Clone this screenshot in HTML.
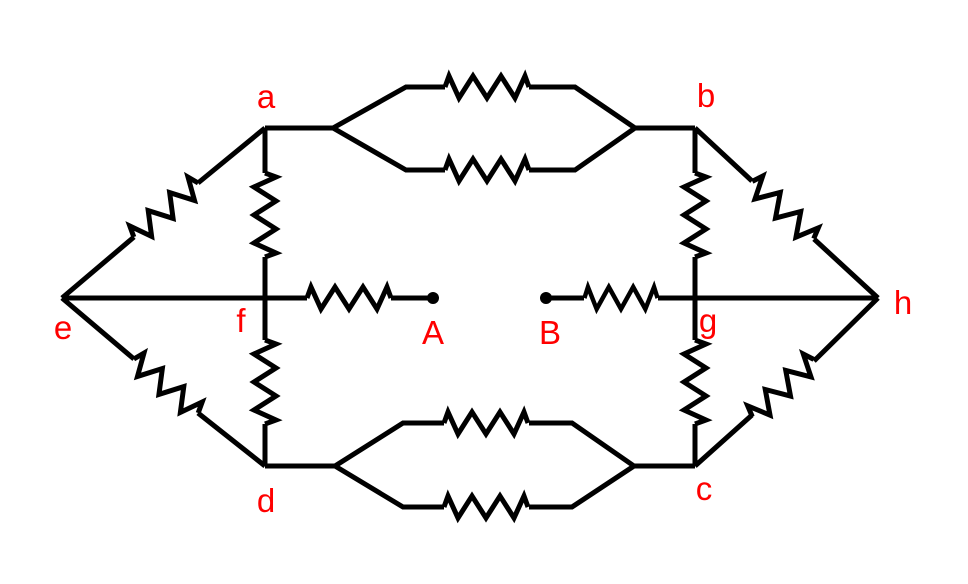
<!DOCTYPE html>
<html><head><meta charset="utf-8"><style>
html,body{margin:0;padding:0;background:#fff;}
svg{display:block}
text{font-family:"Liberation Sans","DejaVu Sans",sans-serif;fill:#ff0000;font-size:33px;text-anchor:middle}
</style></head><body>
<svg width="968" height="584" viewBox="0 0 968 584" xmlns="http://www.w3.org/2000/svg">
<defs>
<path id="r" d="M-42,0 L-38,-11 L-28,11 L-14,-11 L0,11 L14,-11 L28,11 L38,-11 L42,0" fill="none" stroke="#000" stroke-width="5" stroke-linejoin="miter"/>
</defs>
<g fill="none" stroke="#000" stroke-width="5" stroke-linejoin="miter">
<path d="M265,128 L333,128 L406,87 L445,87 M529,87 L575,87 L635,128 L695,128"/>
<path d="M333,128 L406,170 L445,170 M529,170 L575,170 L635,128"/>
<path d="M265,466 L335,466 L403,423 L444,423 M529,423 L572,423 L634,466 L695,466"/>
<path d="M335,466 L403,507 L444,507 M529,507 L572,507 L634,466"/>
<path d="M265,128 L265,173 M265,257 L265,340 M265,424 L265,466"/>
<path d="M695,128 L695,173 M695,257 L695,340 M695,424 L695,466"/>
<path d="M62,298 L134,237 M198,183 L265,128"/>
<path d="M62,298 L134,359 M198,413 L265,466"/>
<path d="M695,128 L752,181 M814,239 L878,298"/>
<path d="M695,466 L752,415 M814,361 L878,298"/>
<path d="M62,298 L307,298 M391,298 L433,298"/>
<path d="M546,298 L584,298 M658,298 L878,298"/>
</g>
<use href="#r" transform="translate(487,87)"/>
<use href="#r" transform="translate(487,170)"/>
<use href="#r" transform="translate(486,423)"/>
<use href="#r" transform="translate(486,507)"/>
<use href="#r" transform="translate(265,215) rotate(90)"/>
<use href="#r" transform="translate(265,382) rotate(90)"/>
<use href="#r" transform="translate(695,215) rotate(90)"/>
<use href="#r" transform="translate(695,382) rotate(90)"/>
<use href="#r" transform="translate(166,210) rotate(-40)"/>
<use href="#r" transform="translate(166,386) rotate(40)"/>
<use href="#r" transform="translate(783,210) rotate(43)"/>
<use href="#r" transform="translate(783,388) rotate(-43)"/>
<use href="#r" transform="translate(349,298)"/>
<use href="#r" transform="translate(621,298) scale(0.87,1)"/>
<circle cx="433" cy="298" r="6" fill="#000"/>
<circle cx="546" cy="298" r="6" fill="#000"/>
<text x="266" y="108">a</text>
<text x="706" y="107">b</text>
<text x="704" y="500">c</text>
<text x="266" y="512">d</text>
<text x="63" y="339">e</text>
<text x="241" y="332">f</text>
<text x="708" y="332">g</text>
<text x="903" y="314">h</text>
<text x="433" y="344">A</text>
<text x="550" y="344">B</text>
</svg>
</body></html>
